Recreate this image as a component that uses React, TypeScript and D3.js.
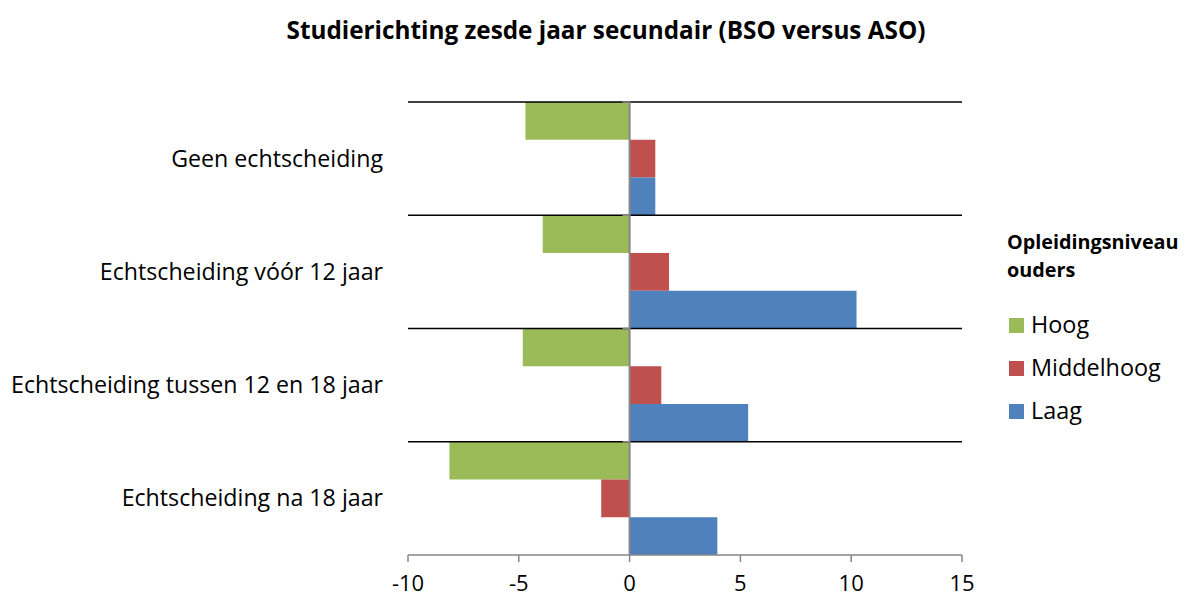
import * as d3 from "d3";

const categories = [
  "Geen echtscheiding",
  "Echtscheiding vóór 12 jaar",
  "Echtscheiding tussen 12 en 18 jaar",
  "Echtscheiding na 18 jaar",
];
const seriesNames = ["Hoog", "Middelhoog", "Laag"];
const hoog = [-4.7, -3.92, -4.82, -8.13];
const middelhoog = [1.16, 1.78, 1.43, -1.28];
const laag = [1.16, 10.24, 5.35, 3.96];
const xTicks = [-10, -5, 0, 5, 10, 15];
const colors = ["#9BBB59", "#C0504D", "#4F81BD"];

const seriesValues = [hoog, middelhoog, laag];
const font = "'Open Sans', sans-serif";

export default function App() {
  const width = 1187;
  const height = 601;
  const x = d3.scaleLinear().domain([-10, 15]).range([408, 962]);
  const y = d3.scaleBand().domain(categories).range([102, 555]).padding(0);
  const inner = d3
    .scaleBand()
    .domain(seriesNames)
    .range([0, y.bandwidth()])
    .padding(0);

  const boundaries = categories.map((c) => y(c) as number);

  return (
    <svg
      width={width}
      height={height}
      style={{ position: "absolute", left: 0, top: 0, background: "#fff" }}
      fontFamily={font}
    >
      <text
        x={606}
        y={39}
        textAnchor="middle"
        fontSize={24.3}
        fontWeight="bold"
        fill="#000"
      >
        Studierichting zesde jaar secundair (BSO versus ASO)
      </text>

      {/* bars */}
      {categories.map((c, ci) =>
        seriesNames.map((s, si) => {
          const v = seriesValues[si][ci];
          return (
            <rect
              key={c + s}
              x={Math.min(x(0), x(v))}
              y={(y(c) as number) + (inner(s) as number)}
              width={Math.abs(x(v) - x(0))}
              height={inner.bandwidth()}
              fill={colors[si]}
            />
          );
        })
      )}

      {/* category separators */}
      {boundaries.map((b, i) => (
        <g key={i}>
          <line x1={x(-10)} x2={x(15)} y1={b} y2={b} stroke="#000" strokeWidth={1.5} />
          <line x1={x(0) - 7} x2={x(0)} y1={b} y2={b} stroke="#868686" strokeWidth={1.5} />
        </g>
      ))}

      {/* vertical axis at zero */}
      <line x1={x(0)} x2={x(0)} y1={102} y2={555} stroke="#868686" strokeWidth={2} />

      {/* x axis */}
      <line x1={x(-10)} x2={x(15)} y1={555} y2={555} stroke="#868686" strokeWidth={1.5} />
      {xTicks.map((t) => (
        <g key={t}>
          <line x1={x(t)} x2={x(t)} y1={555} y2={562} stroke="#868686" strokeWidth={1.5} />
          <text x={x(t)} y={591} textAnchor="middle" fontSize={22} fill="#000">
            {t}
          </text>
        </g>
      ))}

      {/* category labels */}
      {categories.map((c) => (
        <text
          key={c}
          x={383}
          y={(y(c) as number) + y.bandwidth() / 2 + 8}
          textAnchor="end"
          fontSize={23.2}
          fill="#000"
        >
          {c}
        </text>
      ))}

      {/* legend */}
      <text x={1007} y={249} fontSize={19.8} fontWeight="bold" fill="#000">
        Opleidingsniveau
      </text>
      <text x={1007} y={277} fontSize={19.8} fontWeight="bold" fill="#000">
        ouders
      </text>
      {seriesNames.map((s, i) => (
        <g key={s} transform={`translate(1009,${318 + i * 43})`}>
          <rect width={15} height={15} fill={colors[i]} />
          <text x={22} y={15} fontSize={23.4} fill="#000">
            {s}
          </text>
        </g>
      ))}
    </svg>
  );
}
